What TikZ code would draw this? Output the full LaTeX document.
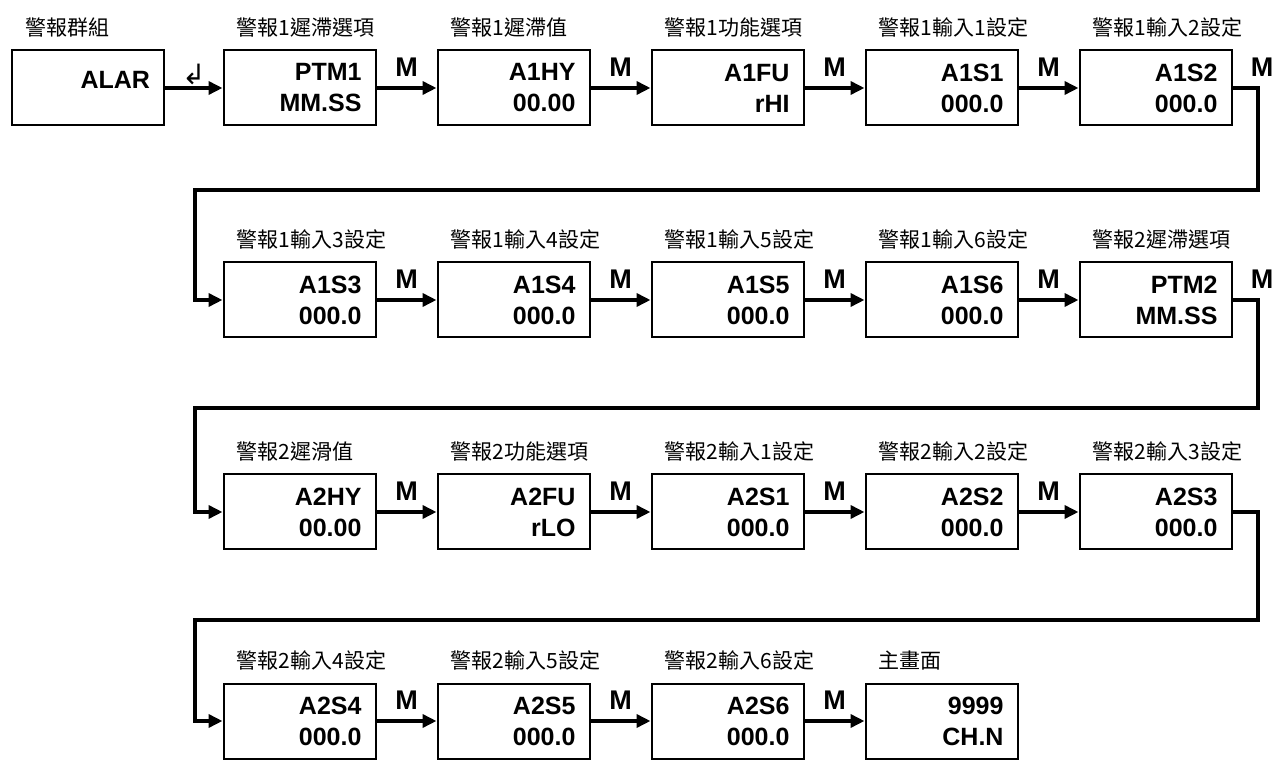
\documentclass[tikz,border=0pt]{standalone}
\usepackage{fontspec}
\setmainfont{Liberation Sans}
\newfontfamily\cjk{Noto Sans CJK TC}
\newfontfamily\symfont{DejaVu Sans}
\usetikzlibrary{arrows.meta}
\tikzset{
  menubox/.style={draw=black,line width=1pt,minimum height=37.5pt,inner xsep=7pt,
    text width=62pt,align=right,font=\bfseries\fontsize{12.5}{15.5}\selectfont},
  title/.style={anchor=base west,xshift=7pt,yshift=7pt,inner sep=0pt,
    font=\cjk\fontsize{10.5}{12}\selectfont},
  flow/.style={line width=2.2pt,line join=miter,-{Triangle[length=7pt,width=6.5pt]}},
  mlabel/.style={above=4.5pt,inner sep=0pt,font=\bfseries\fontsize{13.5}{13.5}\selectfont},
  enterkey/.style={above=0.5pt,inner sep=0pt,font=\symfont\fontsize{14}{14}\selectfont}
}
\begin{document}
\begin{tikzpicture}[x=0.5pt,y=0.5pt]
  \useasboundingbox (0,0) rectangle (1275,761);
  % turning points of the wrap lines
  \coordinate (wrapAr) at (1258,571);
  \coordinate (wrapAl) at (195,571);
  \coordinate (wrapBr) at (1258,353);
  \coordinate (wrapBl) at (195,353);
  \coordinate (wrapCr) at (1258,141);
  \coordinate (wrapCl) at (195,141);

  % row 1
  \node[menubox,label={[title]north west:警報群組}] (alar) at (88,673) {ALAR\\[-7.5pt]\mbox{}};
  \node[menubox,label={[title]north west:警報1遲滯選項}] (ptm1) at (299.5,673) {PTM1\\MM.SS};
  \node[menubox,label={[title]north west:警報1遲滯值}] (a1hy) at (513.5,673) {A1HY\\00.00};
  \node[menubox,label={[title]north west:警報1功能選項}] (a1fu) at (727.5,673) {A1FU\\rHI};
  \node[menubox,label={[title]north west:警報1輸入1設定}] (a1s1) at (941.5,673) {A1S1\\000.0};
  \node[menubox,label={[title]north west:警報1輸入2設定}] (a1s2) at (1155.5,673) {A1S2\\000.0};

  % row 2
  \node[menubox,label={[title]north west:警報1輸入3設定}] (a1s3) at (299.5,461) {A1S3\\000.0};
  \node[menubox,label={[title]north west:警報1輸入4設定}] (a1s4) at (513.5,461) {A1S4\\000.0};
  \node[menubox,label={[title]north west:警報1輸入5設定}] (a1s5) at (727.5,461) {A1S5\\000.0};
  \node[menubox,label={[title]north west:警報1輸入6設定}] (a1s6) at (941.5,461) {A1S6\\000.0};
  \node[menubox,label={[title]north west:警報2遲滯選項}] (ptm2) at (1155.5,461) {PTM2\\MM.SS};

  % row 3
  \node[menubox,label={[title]north west:警報2遲滑值}] (a2hy) at (299.5,249) {A2HY\\00.00};
  \node[menubox,label={[title]north west:警報2功能選項}] (a2fu) at (513.5,249) {A2FU\\rLO};
  \node[menubox,label={[title]north west:警報2輸入1設定}] (a2s1) at (727.5,249) {A2S1\\000.0};
  \node[menubox,label={[title]north west:警報2輸入2設定}] (a2s2) at (941.5,249) {A2S2\\000.0};
  \node[menubox,label={[title]north west:警報2輸入3設定}] (a2s3) at (1155.5,249) {A2S3\\000.0};

  % row 4
  \node[menubox,label={[title]north west:警報2輸入4設定}] (a2s4) at (299.5,40) {A2S4\\000.0};
  \node[menubox,label={[title]north west:警報2輸入5設定}] (a2s5) at (513.5,40) {A2S5\\000.0};
  \node[menubox,label={[title]north west:警報2輸入6設定}] (a2s6) at (727.5,40) {A2S6\\000.0};
  \node[menubox,label={[title]north west:主畫面}] (mainscr) at (941.5,40) {9999\\CH.N};

  % connectors
  \draw[flow] (alar.east) -- node[enterkey]{↲} (ptm1.west);
  \draw[flow] (ptm1.east) -- node[mlabel]{M} (a1hy.west);
  \draw[flow] (a1hy.east) -- node[mlabel]{M} (a1fu.west);
  \draw[flow] (a1fu.east) -- node[mlabel]{M} (a1s1.west);
  \draw[flow] (a1s1.east) -- node[mlabel]{M} (a1s2.west);
  \draw[flow] (a1s2.east) -| node[pos=0.5,mlabel,xshift=2pt]{M} (wrapAr) -- (wrapAl) |- (a1s3.west);

  \draw[flow] (a1s3.east) -- node[mlabel]{M} (a1s4.west);
  \draw[flow] (a1s4.east) -- node[mlabel]{M} (a1s5.west);
  \draw[flow] (a1s5.east) -- node[mlabel]{M} (a1s6.west);
  \draw[flow] (a1s6.east) -- node[mlabel]{M} (ptm2.west);
  \draw[flow] (ptm2.east) -| node[pos=0.5,mlabel,xshift=2pt]{M} (wrapBr) -- (wrapBl) |- (a2hy.west);

  \draw[flow] (a2hy.east) -- node[mlabel]{M} (a2fu.west);
  \draw[flow] (a2fu.east) -- node[mlabel]{M} (a2s1.west);
  \draw[flow] (a2s1.east) -- node[mlabel]{M} (a2s2.west);
  \draw[flow] (a2s2.east) -- node[mlabel]{M} (a2s3.west);
  \draw[flow] (a2s3.east) -| (wrapCr) -- (wrapCl) |- (a2s4.west);

  \draw[flow] (a2s4.east) -- node[mlabel]{M} (a2s5.west);
  \draw[flow] (a2s5.east) -- node[mlabel]{M} (a2s6.west);
  \draw[flow] (a2s6.east) -- node[mlabel]{M} (mainscr.west);
\end{tikzpicture}
\end{document}
